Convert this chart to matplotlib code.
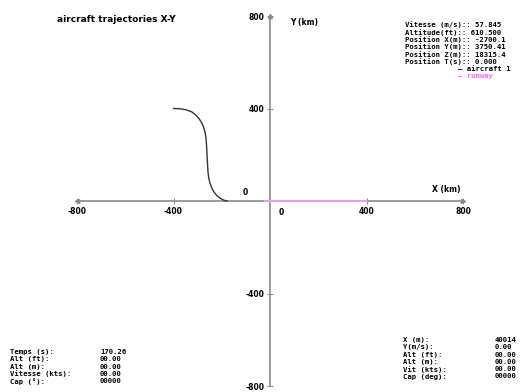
import matplotlib
matplotlib.use("Agg")
import matplotlib.pyplot as plt
import numpy as np

# --- data ---
traj_x = [-400, -375, -350, -325, -308, -294, -283, -275, -269, -265, -263, -261, -259,
          -257, -254, -249, -242, -233, -221, -205, -190, -178]
traj_y = [400, 399, 395, 386, 372, 356, 338, 318, 296, 270, 240, 200, 160,
          125, 100, 78, 58, 40, 24, 11, 3, 0]
runway_x = [-20, 400]
runway_y = [0, 0]
x_ticks = [-800, -400, 400, 800]
y_ticks = [-800, -400, 400, 800]
title = "aircraft trajectories X-Y"
info_top = ["Vitesse (m/s):: 57.845",
            "Altitude(ft):: 610.500",
            "Position X(m):: -2700.1",
            "Position Y(m):: 3750.41",
            "Position Z(m):: 18315.4",
            "Position T(s):: 0.000"]
info_bl_keys = ["Temps (s):", "Alt (ft):", "Alt (m):", "Vitesse (kts):", "Cap (°):"]
info_bl_vals = ["170.26", "00.00", "00.00", "00.00", "00000"]
info_br_keys = ["X (m):", "Y(m/s):", "Alt (ft):", "Alt (m):", "Vit (kts):", "Cap (deg):"]
info_br_vals = ["40014", "0.00", "00.00", "00.00", "00.00", "00000"]

W, H = 532, 392
fig = plt.figure(figsize=(W / 100, H / 100), dpi=100)
fig.patch.set_facecolor("white")

x0, x1 = 77, 463
ytop, ybot = 16, 386
ax = fig.add_axes([x0 / W, 1 - ybot / H, (x1 - x0) / W, (ybot - ytop) / H])
ax.set_xlim(-800, 800)
ax.set_ylim(-800, 800)
ax.patch.set_alpha(0)

axcol = "#8a8a8a"
for s in ["top", "right"]:
    ax.spines[s].set_visible(False)
ax.spines["left"].set_position(("data", 0))
ax.spines["bottom"].set_position(("data", 0))
ax.spines["left"].set_color(axcol)
ax.spines["bottom"].set_color(axcol)
ax.spines["left"].set_linewidth(1.2)
ax.spines["bottom"].set_linewidth(1.2)

ax.set_xticks(x_ticks)
ax.set_yticks(y_ticks)
ax.set_xticklabels([str(v) for v in x_ticks])
ax.set_yticklabels([str(v) for v in y_ticks])
ax.tick_params(axis="both", direction="inout", length=4, width=0.8, colors=axcol,
               labelcolor="black", labelsize=5.5, pad=2)
for lab in ax.get_xticklabels() + ax.get_yticklabels():
    lab.set_fontweight("bold")

# axis arrows
ax.plot(1, 0, ">", transform=ax.get_yaxis_transform(), clip_on=False, color=axcol, ms=3)
ax.plot(-800, 0, "<", clip_on=False, color=axcol, ms=3)
ax.plot(0, 1, "^", transform=ax.get_xaxis_transform(), clip_on=False, color=axcol, ms=3)

# zero labels
ax.annotate("0", (0, 0), xytext=(-18, 3), textcoords="offset points", fontsize=5.5,
            fontweight="bold", ha="center", va="bottom")
ax.annotate("0", (0, 0), xytext=(8, -5), textcoords="offset points", fontsize=5.5,
            fontweight="bold", ha="center", va="top")

ax.plot(runway_x, runway_y, color="#ff99ff", lw=1.2, label="runway", zorder=3)
ax.plot(traj_x, traj_y, color="#333333", lw=1.0, label="aircraft 1", zorder=4)

# axis labels
fig.text(290 / W, 1 - 22 / H, "Y (km)", fontsize=5.5, fontweight="bold", ha="left", va="center")
fig.text(432 / W, 1 - 189 / H, "X (km)", fontsize=5.5, fontweight="bold", ha="left", va="center")

fig.text(57 / W, 1 - 19 / H, title, fontsize=6.5, fontweight="bold", ha="left", va="center")

mono = "DejaVu Sans Mono"
for i, t in enumerate(info_top):
    fig.text(405 / W, 1 - (25 + 7.3 * i) / H, t, fontsize=5.2, family=mono,
             fontweight="bold", ha="left", va="center")
fig.text(458 / W, 1 - 69 / H, "— aircraft 1", fontsize=5.2, family=mono,
         fontweight="bold", color="black", ha="left", va="center")
fig.text(458 / W, 1 - 76 / H, "— runway", fontsize=5.2, family=mono,
         fontweight="bold", color="#ff60ff", ha="left", va="center")

for i, (k, v) in enumerate(zip(info_bl_keys, info_bl_vals)):
    yy = 1 - (352 + 7.3 * i) / H
    fig.text(10 / W, yy, k, fontsize=5.2, family=mono, fontweight="bold", ha="left", va="center")
    fig.text(100 / W, yy, v, fontsize=5.2, family=mono, fontweight="bold", ha="left", va="center")

for i, (k, v) in enumerate(zip(info_br_keys, info_br_vals)):
    yy = 1 - (340 + 7.3 * i) / H
    fig.text(403 / W, yy, k, fontsize=5.2, family=mono, fontweight="bold", ha="left", va="center")
    fig.text(495 / W, yy, v, fontsize=5.2, family=mono, fontweight="bold", ha="left", va="center")

fig.savefig("out.png", dpi=100, facecolor="white")
